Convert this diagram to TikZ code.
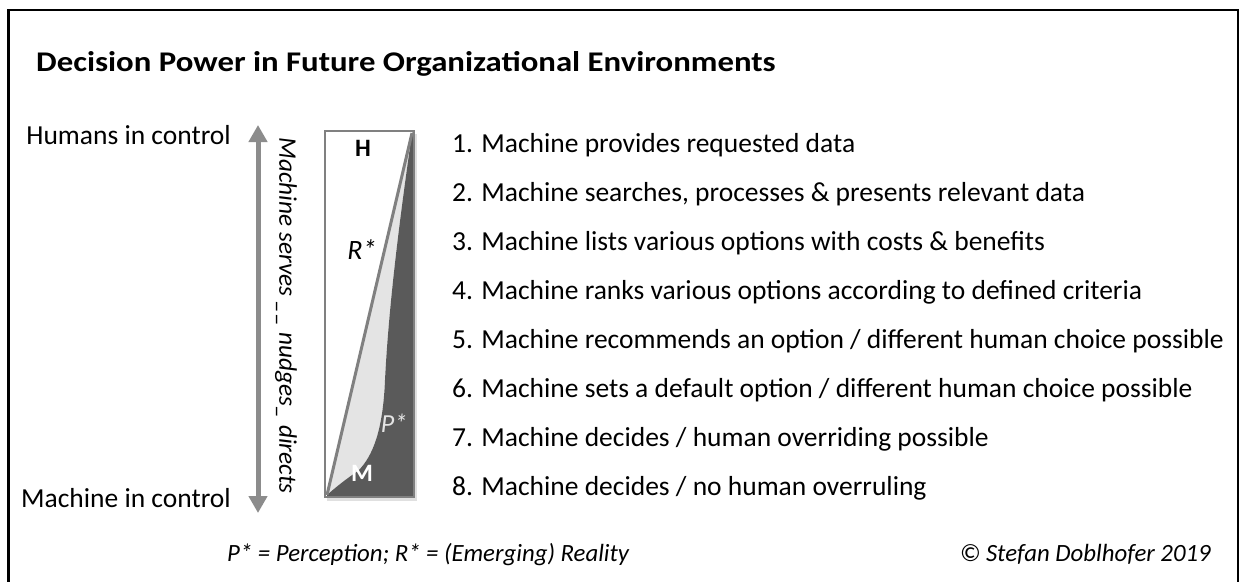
\documentclass[tikz,border=0pt]{standalone}
\usepackage{fontspec}
\setmainfont{Carlito}
\usetikzlibrary{arrows.meta}
\definecolor{framegray}{HTML}{808080}
\definecolor{lightfill}{HTML}{E4E4E4}
\definecolor{darkfill}{HTML}{5A5A5A}
\definecolor{arrowgray}{HTML}{8C8C8C}
\tikzset{
  item/.style={anchor=base west, inner sep=0pt, font=\fontsize{27.5}{32}\selectfont},
  side/.style={anchor=base east, inner sep=0pt, font=\fontsize{27.5}{32}\selectfont},
  foot/.style={anchor=base west, inner sep=0pt, font=\fontsize{24.8}{29}\selectfont\itshape},
}
\begin{document}
\begin{tikzpicture}[x=1pt,y=-1pt]
\useasboundingbox (0,0) rectangle (1241,581);
\clip (0,0) rectangle (1241,581);
\fill[white] (0,0) rectangle (1241,581);
% frame
\draw[line width=2.7pt] (8.7,600) -- (8.7,10) -- (1238,10) -- (1238,600);
% title
\node[anchor=base west, inner sep=0pt, font=\fontsize{28.5}{33}\selectfont\bfseries] (title) at (36,71) {\scalebox{1.15}[1]{Decision Power in Future Organizational Environments}};
% side labels
\node[side] (hum) at (231,144) {Humans in control};
\node[side] (mac) at (231,507) {Machine in control};
% arrow
\coordinate (atop) at (258,125);
\coordinate (abot) at (258,513);
\draw[arrowgray, line width=5pt, {Triangle[width=18pt,length=17pt]}-{Triangle[width=18pt,length=17pt]}] (atop) -- (abot);
\node[rotate=-90, inner sep=0pt, font=\fontsize{25.3}{30}\selectfont\itshape] (serves) at (286,315.5) {Machine serves \_\_ nudges\_ directs};
% bar
\fill[black!12] (327,134) rectangle (417,501);
\fill[white] (325,131) rectangle (414,497);
\fill[lightfill] (327,495) -- (412,133) .. controls (401,210) and (389,300) .. (385,380) .. controls (383,430) and (373,456) .. (358,471) .. controls (346,479) and (336,487) .. cycle;
\fill[darkfill] (414,131) -- (414,497) -- (327,497) -- (327,495) .. controls (336,487) and (346,479) .. (358,471) .. controls (373,456) and (383,430) .. (385,380) .. controls (389,300) and (401,210) .. (412,133) -- cycle;
\draw[framegray, line width=3pt] (327,495) -- (412,133);
\draw[framegray, line width=2.5pt] (325,131) rectangle (414,497);
\node[inner sep=0pt, font=\fontsize{25}{30}\selectfont\bfseries] (H) at (363,148) {H};
\node[inner sep=0pt, font=\fontsize{28}{32}\selectfont\itshape] (R) at (362,250) {R*};
\node[inner sep=0pt, text=lightfill, font=\fontsize{26}{30}\selectfont\itshape] (P) at (394,423) {P*};
\node[inner sep=0pt, text=white, font=\fontsize{25}{30}\selectfont\bfseries] (M) at (362,473) {M};
% list
\node[item] (i1) at (452,152) {1. Machine provides requested data};
\node[item] (i2) at (452,201) {2. Machine searches, processes \& presents relevant data};
\node[item] (i3) at (452,250) {3. Machine lists various options with costs \& benefits};
\node[item] (i4) at (452,299) {4. Machine ranks various options according to defined criteria};
\node[item] (i5) at (452,348) {5. Machine recommends an option / different human choice possible};
\node[item] (i6) at (452,397) {6. Machine sets a default option / different human choice possible};
\node[item] (i7) at (452,446) {7. Machine decides / human overriding possible};
\node[item] (i8) at (452,495) {8. Machine decides / no human overruling};
% footer
\node[foot] (f1) at (227,561) {P* = Perception; R* = (Emerging) Reality};
\node[foot, anchor=base east] (f2) at (1211,561) {© Stefan Doblhofer 2019};
\end{tikzpicture}
\end{document}
